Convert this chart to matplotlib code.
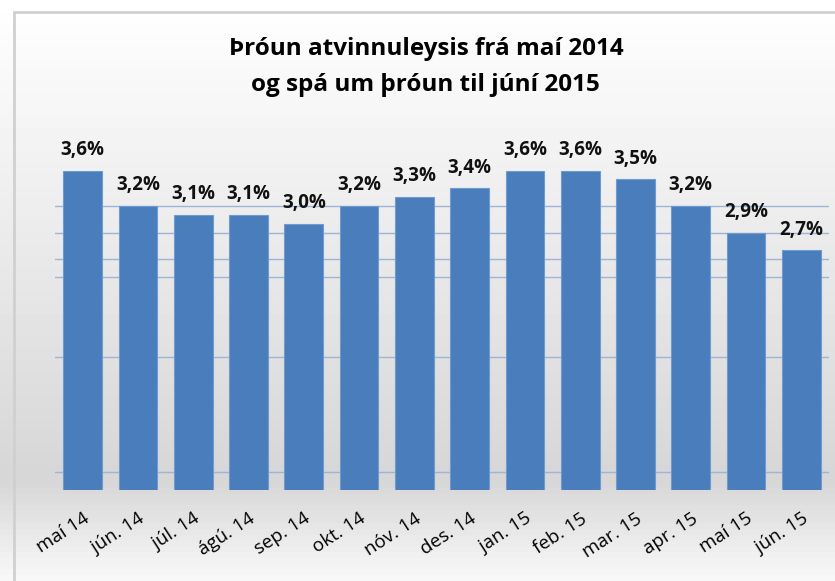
import numpy as np
import matplotlib.pyplot as plt
from matplotlib.patches import Rectangle

months = ['maí 14', 'jún. 14', 'júl. 14', 'ágú. 14', 'sep. 14', 'okt. 14', 'nóv. 14',
          'des. 14', 'jan. 15', 'feb. 15', 'mar. 15', 'apr. 15', 'maí 15', 'jún. 15']
rate = [3.6, 3.2, 3.1, 3.1, 3.0, 3.2, 3.3, 3.4, 3.6, 3.6, 3.5, 3.2, 2.9, 2.7]
title = 'Þróun atvinnuleysis frá maí 2014\nog spá um þróun til júní 2015'

plt.rcParams['font.family'] = ['Open Sans', 'DejaVu Sans']

fig = plt.figure(figsize=(8.35, 5.81), dpi=100)

# background gradient for the chart area
bg = fig.add_axes([0, 0, 1, 1], zorder=-10)
g = np.concatenate([np.linspace(1.0, 0.84, 82), np.linspace(0.84, 0.97, 18)])
bg.imshow(g[:, None], aspect='auto', cmap='gray', vmin=0, vmax=1,
          extent=[0, 1, 0, 1], origin='upper')
bg.add_patch(Rectangle((14 / 835, -0.1), 1.1, 1 - 12 / 581 + 0.1, fill=False,
                       edgecolor='#d0d0d0', lw=2, transform=bg.transAxes))
bg.set_xlim(0, 1)
bg.set_ylim(0, 1)
bg.axis('off')

ax = fig.add_axes([55 / 835, 1 - 490 / 581, 774 / 835, 355 / 581])
ax.patch.set_alpha(0)
x = np.arange(len(months))
bars = ax.bar(x, rate, width=0.7, color='#4a7dbb', edgecolor='#6f9bd0', linewidth=0.8,
              zorder=3)
for xi, v in zip(x, rate):
    ax.text(xi, v + 0.12, f'{v:.1f}%'.replace('.', ','), ha='center', va='bottom',
            fontsize=13.5, fontweight='bold', color='#111111')

ax.set_xlim(-0.5, len(months) - 0.5)
ax.set_ylim(0, 4)
ax.set_yticks([0.2, 1.5, 2.4, 2.6, 2.9, 3.2])
ax.yaxis.grid(True, color='#9db4d6', lw=1, zorder=0)
ax.tick_params(axis='y', length=0, labelleft=False)
ax.set_xticks(x)
ax.set_xticklabels(months, rotation=33, ha='right', rotation_mode='anchor', fontsize=13.5)
ax.tick_params(axis='x', length=0, pad=14)
for s in ax.spines.values():
    s.set_visible(False)

fig.text(0.51, 1 - 67 / 581, title, ha='center', va='center', fontsize=17.5,
         fontweight='bold', linespacing=1.65)

fig.savefig('out.png', dpi=100)
